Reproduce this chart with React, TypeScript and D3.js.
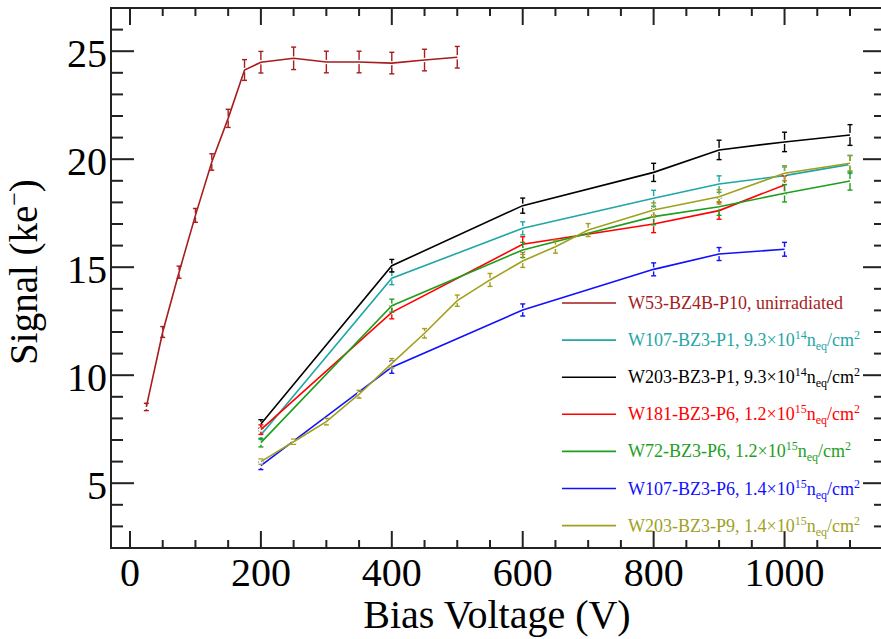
import React from "react";
import * as d3 from "d3";

// ---------- data ----------
const w53Volts = [25, 50, 75, 100, 125, 150, 175, 200, 250, 300, 350, 400, 450, 500];
const w53Signal = [8.53, 12.0, 14.77, 17.4, 19.87, 21.89, 24.13, 24.49, 24.67, 24.5, 24.5, 24.45, 24.59, 24.72];
const w53Err = [0.17, 0.25, 0.28, 0.32, 0.38, 0.42, 0.48, 0.5, 0.52, 0.5, 0.5, 0.5, 0.5, 0.5];

const w107p1Volts = [200, 400, 600, 800, 900, 1000, 1100];
const w107p1Signal = [7.23, 14.49, 16.8, 18.19, 18.85, 19.24, 19.76];
const w107p1Err = [0.2, 0.3, 0.3, 0.37, 0.38, 0.4, 0.42];

const w203p1Volts = [200, 400, 600, 800, 900, 1000, 1100];
const w203p1Signal = [7.74, 15.07, 17.85, 19.39, 20.43, 20.8, 21.12];
const w203p1Err = [0.2, 0.29, 0.35, 0.42, 0.45, 0.45, 0.48];

const w181p6Volts = [200, 400, 600, 800, 900, 1000];
const w181p6Signal = [7.48, 12.91, 16.06, 17.0, 17.62, 18.81];
const w181p6Err = [0.22, 0.3, 0.35, 0.4, 0.4, 0.42];

const w72p6Volts = [200, 400, 600, 800, 900, 1000, 1100];
const w72p6Signal = [6.88, 13.22, 15.8, 17.34, 17.8, 18.42, 18.99];
const w72p6Err = [0.2, 0.3, 0.35, 0.38, 0.4, 0.4, 0.42];

const w107p6Volts = [200, 400, 600, 800, 900, 1000];
const w107p6Signal = [5.81, 10.37, 13.02, 14.9, 15.61, 15.83];
const w107p6Err = [0.18, 0.28, 0.28, 0.3, 0.3, 0.32];

const w203p9Volts = [200, 250, 300, 350, 400, 450, 500, 550, 600, 650, 700, 800, 900, 1000, 1100];
const w203p9Signal = [6.0, 6.92, 7.85, 9.12, 10.55, 11.94, 13.45, 14.41, 15.29, 15.95, 16.72, 17.65, 18.26, 19.35, 19.81];
const w203p9Err = [0.12, 0.12, 0.15, 0.18, 0.22, 0.22, 0.26, 0.3, 0.3, 0.3, 0.3, 0.33, 0.33, 0.35, 0.35];

const seriesNames = [
  "W53-BZ4B-P10",
  "W107-BZ3-P1",
  "W203-BZ3-P1",
  "W181-BZ3-P6",
  "W72-BZ3-P6",
  "W107-BZ3-P6",
  "W203-BZ3-P9",
];
const seriesFluenceMantissa = ["", "9.3", "9.3", "1.2", "1.2", "1.4", "1.4"];
const seriesFluenceExponent = ["", "14", "14", "15", "15", "15", "15"];
const seriesColors = ["#a51d1d", "#1fa6a6", "#000000", "#ff0000", "#1e9e1e", "#1010ff", "#a0a01e"];

const xMajorTicks = [0, 200, 400, 600, 800, 1000];
const yMajorTicks = [5, 10, 15, 20, 25];

const xTitle = "Bias Voltage (V)";
const yTitle = "Signal (ke";

// ---------- layout ----------
const W = 881;
const H = 639;
const L = 111, R = 886, T = 8, B = 548;
const FONT = '"Liberation Serif", "DejaVu Serif", serif';

const x = d3.scaleLinear().domain([-29, 1155]).range([L, R]);
const y = d3.scaleLinear().domain([2, 27]).range([B, T]);

const series = [
  { v: w53Volts, s: w53Signal, e: w53Err },
  { v: w107p1Volts, s: w107p1Signal, e: w107p1Err },
  { v: w203p1Volts, s: w203p1Signal, e: w203p1Err },
  { v: w181p6Volts, s: w181p6Signal, e: w181p6Err },
  { v: w72p6Volts, s: w72p6Signal, e: w72p6Err },
  { v: w107p6Volts, s: w107p6Signal, e: w107p6Err },
  { v: w203p9Volts, s: w203p9Signal, e: w203p9Err },
].map((d, i) => ({
  ...d,
  name: seriesNames[i],
  color: seriesColors[i],
  pts: d.v.map((vv, j) => ({ v: vv, s: d.s[j], e: d.e[j] })),
}));

const line = d3
  .line<{ v: number; s: number }>()
  .x((d) => x(d.v))
  .y((d) => y(d.s));

const xMinor = d3.range(50, 1151, 50).filter((v) => !xMajorTicks.includes(v));
const yMinor = d3.range(3, 27, 1).filter((v) => !yMajorTicks.includes(v));

const tf = { fontFamily: FONT };

export default function App() {
  const frame = "#222";
  return (
    <svg
      width={W}
      height={H}
      style={{ position: "absolute", left: 0, top: 0, background: "#fff", fontFamily: FONT }}
    >
      <rect x={0} y={0} width={W} height={H} fill="#fff" />

      {/* data */}
      {series.map((sr, i) => (
        <g key={i}>
          {sr.pts.map((p, j) => {
            const cx = x(p.v);
            const y0 = y(p.s - p.e);
            const y1 = y(p.s + p.e);
            return (
              <g key={j} stroke={sr.color} strokeWidth={1.4}>
                <line x1={cx} x2={cx} y1={y0} y2={y1} />
                <line x1={cx - 2.5} x2={cx + 2.5} y1={y0} y2={y0} />
                <line x1={cx - 2.5} x2={cx + 2.5} y1={y1} y2={y1} />
              </g>
            );
          })}
          {sr.pts.map((p, j) => (
            <circle key={"c" + j} cx={x(p.v)} cy={y(p.s)} r={2.2} fill="#fff" />
          ))}
          <path d={line(sr.pts) || ""} fill="none" stroke={sr.color} strokeWidth={1.6} />
        </g>
      ))}

      {/* frame */}
      <rect x={L} y={T} width={R - L} height={B - T} fill="none" stroke={frame} strokeWidth={2} />

      {/* x ticks */}
      {xMajorTicks.map((v) => (
        <g key={"xm" + v} stroke={frame} strokeWidth={2}>
          <line x1={x(v)} x2={x(v)} y1={B} y2={B - 17} />
          <line x1={x(v)} x2={x(v)} y1={T} y2={T + 17} />
        </g>
      ))}
      {xMinor.map((v) => (
        <g key={"xn" + v} stroke={frame} strokeWidth={2}>
          <line x1={x(v)} x2={x(v)} y1={B} y2={B - 8} />
          <line x1={x(v)} x2={x(v)} y1={T} y2={T + 8} />
        </g>
      ))}
      {/* y ticks */}
      {yMajorTicks.map((v) => (
        <g key={"ym" + v} stroke={frame} strokeWidth={2}>
          <line x1={L} x2={L + 23} y1={y(v)} y2={y(v)} />
          <line x1={R} x2={R - 23} y1={y(v)} y2={y(v)} />
        </g>
      ))}
      {yMinor.map((v) => (
        <g key={"yn" + v} stroke={frame} strokeWidth={2}>
          <line x1={L} x2={L + 12} y1={y(v)} y2={y(v)} />
          <line x1={R} x2={R - 12} y1={y(v)} y2={y(v)} />
        </g>
      ))}

      {/* tick labels */}
      {xMajorTicks.map((v) => (
        <text key={"xl" + v} x={x(v)} y={586} textAnchor="middle" fontSize={40} fill="#000" style={tf}>
          {v}
        </text>
      ))}
      {yMajorTicks.map((v) => (
        <text key={"yl" + v} x={107} y={y(v) + 16} textAnchor="end" fontSize={40} fill="#000" style={tf}>
          {v}
        </text>
      ))}

      {/* axis titles */}
      <text x={497} y={628} textAnchor="middle" fontSize={40} fill="#000" style={tf}>
        {xTitle}
      </text>
      <text
        transform={`translate(37,272) rotate(-90)`}
        textAnchor="middle"
        fontSize={39}
        fill="#000"
        style={tf}
      >
        {yTitle}
        <tspan fontSize={24} dy={-15}>−</tspan>
        <tspan dy={15}>)</tspan>
      </text>

      {/* legend */}
      {series.map((sr, i) => {
        const ly = 303 + i * 37.1;
        return (
          <g key={"lg" + i}>
            <line x1={562} x2={616} y1={ly} y2={ly} stroke={sr.color} strokeWidth={1.6} />
            <text x={628} y={ly + 6} fontSize={18} fill={sr.color} style={tf}>
              {seriesFluenceMantissa[i] === "" ? (
                <tspan>{sr.name}, unirradiated</tspan>
              ) : (
                <>
                  <tspan>{`${sr.name}, ${seriesFluenceMantissa[i]}×10`}</tspan>
                  <tspan fontSize={12} dy={-7}>{seriesFluenceExponent[i]}</tspan>
                  <tspan dy={7}>n</tspan>
                  <tspan fontSize={12} dy={4}>eq</tspan>
                  <tspan dy={-4}>/cm</tspan>
                  <tspan fontSize={12} dy={-7}>2</tspan>
                </>
              )}
            </text>
          </g>
        );
      })}
    </svg>
  );
}
